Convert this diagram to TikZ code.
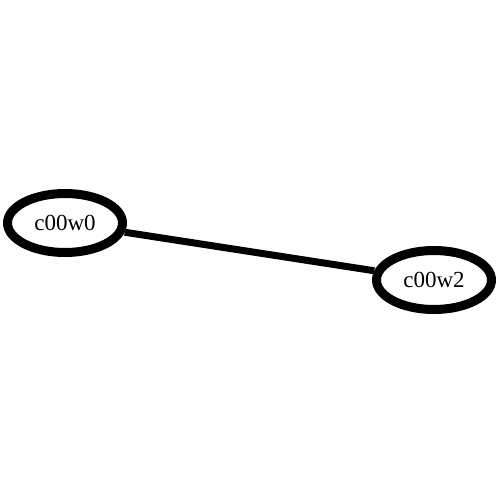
\documentclass[tikz,border=0pt]{standalone}
\usepackage{fontspec}
\setmainfont{Liberation Serif}
\usetikzlibrary{shapes.geometric}
\begin{document}
\begin{tikzpicture}[x=1pt,y=-1pt,
  vnode/.style={ellipse,draw=black,line width=9pt,minimum width=115pt,minimum height=59pt,inner sep=0pt,font=\fontsize{23}{26}\selectfont},
  edge/.style={line width=7pt,black}]
\useasboundingbox (0,0) rectangle (500,500);
\node[vnode] (a) at (65,223) {c00w0};
\node[vnode] (b) at (434,280) {c00w2};
\draw[edge] (a) -- (b);
\end{tikzpicture}
\end{document}
